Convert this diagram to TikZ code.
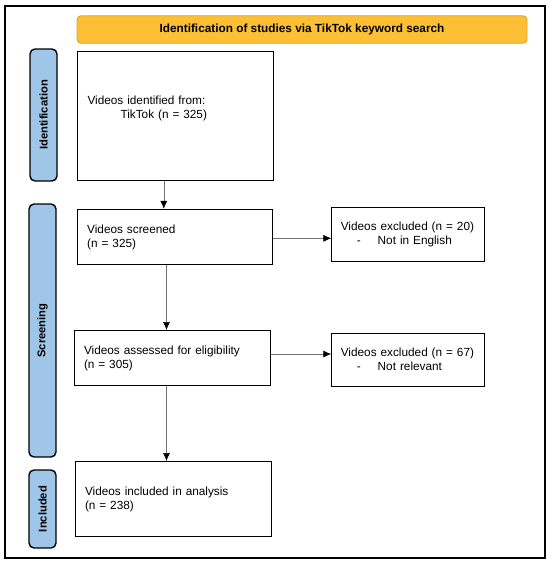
\documentclass[tikz,border=0pt]{standalone}
\usepackage{fontspec}
\setmainfont{Liberation Sans}
\usepackage{tikz}
\usetikzlibrary{arrows.meta, positioning, calc}
\usepackage{xcolor}
\definecolor{headfill}{HTML}{FDBF33}
\definecolor{headline}{HTML}{E0A32A}
\definecolor{phasefill}{HTML}{9FC5E8}

\begin{document}
\begin{tikzpicture}[x=1pt, y=-1pt,
    procbox/.style={draw, line width=1pt, rectangle, align=left, inner xsep=10pt,
                    font=\fontsize{11.8}{14}\selectfont},
    phase/.style={draw, line width=1.4pt, fill=phasefill, rounded corners=5pt,
                  minimum width=27pt, font=\fontsize{11.2}{13}\selectfont\bfseries},
    arrow/.style={-{Latex[black, length=8pt, width=7pt]}, draw=black!55, line width=0.6pt},
]
\useasboundingbox (0,0) rectangle (550,566);
\draw[line width=2pt] (5,6) rectangle (545,558);

% header
\node[draw=headline, fill=headfill, line width=0.9pt, rounded corners=4pt,
      minimum width=450pt, minimum height=27.5pt,
      font=\fontsize{11.8}{14}\selectfont\bfseries] (head) at (302,29.5)
     {Identification of studies via TikTok keyword search};

% phase labels
\node[phase, minimum height=132pt] (identlab) at (43.5,115)
     {\rotatebox{90}{Identification}};
\node[phase, minimum height=253pt] (screenlab) at (42.5,330.5)
     {\rotatebox{90}{Screening}};
\node[phase, minimum height=78pt] (incllab) at (42.5,509)
     {\rotatebox{90}{Included}};

% boxes
\node[procbox, minimum width=195.6pt, minimum height=129pt, text width=175.6pt,
      anchor=north west] (ident) at (77,51) {};
\node[procbox, draw=none, text width=175.6pt, anchor=west] (identtxt) at (77,108)
     {Videos identified from:\\\hspace*{33pt}TikTok (n = 325)};
\node[procbox, minimum width=195.6pt, minimum height=55.4pt, text width=175.6pt]
     (screen) at (175,237) {Videos screened\\(n = 325)};
\node[procbox, minimum width=152.4pt, minimum height=54.4pt, text width=134.4pt,
      inner xsep=9pt] (excl1) at (408,234.5)
     {Videos excluded (n = 20)\\\hspace*{16pt}-\hspace*{17pt}Not in English};
\node[procbox, minimum width=196pt, minimum height=55pt, text width=176pt]
     (elig) at (172,358) {Videos assessed for eligibility\\(n = 305)};
\node[procbox, minimum width=152.4pt, minimum height=52.7pt, text width=134.4pt,
      inner xsep=9pt] (excl2) at (408,359.7)
     {Videos excluded (n = 67)\\\hspace*{16pt}-\hspace*{17pt}Not relevant};
\node[procbox, minimum width=196pt, minimum height=75pt, text width=176pt]
     (incl) at (173,499) {Videos included in analysis\\(n = 238)};

% arrows
\draw[arrow] ([xshift=-11.5pt]ident.south) -- ([xshift=-11.5pt]ident.south |- screen.north);
\draw[arrow] ([xshift=-8.5pt]screen.south) -- ([xshift=-8.5pt]screen.south |- elig.north);
\draw[arrow] ([xshift=-5.5pt]elig.south) -- ([xshift=-5.5pt]elig.south |- incl.north);
\draw[arrow] ([yshift=-1.3pt]screen.east) -- ([yshift=-1.3pt]screen.east -| excl1.west);
\draw[arrow] ([yshift=4pt]elig.east) -- ([yshift=4pt]elig.east -| excl2.west);
\end{tikzpicture}
\end{document}
